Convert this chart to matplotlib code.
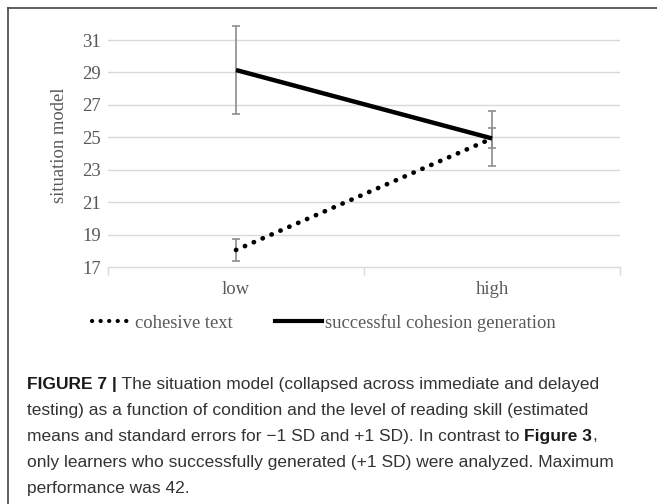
import matplotlib
matplotlib.use("Agg")
import matplotlib.pyplot as plt
from matplotlib.lines import Line2D
from matplotlib.transforms import offset_copy

categories = ["low", "high"]
cohesive_text = [18.05, 24.93]
cohesive_err = [0.68, 0.62]
successful_gen = [29.15, 24.93]
successful_err = [2.70, 1.68]
yticks = [17, 19, 21, 23, 25, 27, 29, 31]
series_names = ["cohesive text", "successful cohesion generation"]

W, H = 657, 504
fig = plt.figure(figsize=(W / 100, H / 100), dpi=100)

def fx(px):
    return px / W

def fy(py):
    return 1 - py / H

ax = fig.add_axes([fx(108), fy(267), fx(620) - fx(108), fy(23.8) - fy(267)])
ax.set_xlim(-0.5, 1.5)
ax.set_ylim(17, 32)

grid_c = "#d9d9d9"
text_c = "#595959"
serif = ["Liberation Serif", "DejaVu Serif"]
fs = 13.4

for v in yticks[1:]:
    ax.axhline(v, color=grid_c, lw=1.0, zorder=0)
for s in ["top", "right", "left"]:
    ax.spines[s].set_visible(False)
ax.spines["bottom"].set_color(grid_c)
ax.spines["bottom"].set_linewidth(1.0)

ax.set_yticks(yticks)
ax.set_yticklabels([str(v) for v in yticks], fontfamily=serif, fontsize=fs, color=text_c)
ax.tick_params(axis="y", length=0, pad=5)
ax.set_xticks([-0.5, 0.5, 1.5])
ax.set_xticklabels(["", "", ""])
ax.tick_params(axis="x", length=6, color=grid_c, width=1.0)
x = list(range(len(categories)))
lab_tr = offset_copy(ax.get_xaxis_transform(), fig=fig, x=0, y=-22, units="dots")
for xi, lab in zip(x, categories):
    ax.text(xi, 0, lab, transform=lab_tr, ha="center", va="center",
            fontfamily=serif, fontsize=fs, color=text_c)

ax.set_ylabel("situation model", fontfamily=serif, fontsize=fs, color=text_c, labelpad=10)

err_c = "#8c8c8c"
ax.errorbar(x, cohesive_text, yerr=cohesive_err, fmt="none", ecolor=err_c, elinewidth=1.2,
            capsize=3, capthick=1.2, zorder=2, clip_on=False)
ax.errorbar(x, successful_gen, yerr=successful_err, fmt="none", ecolor=err_c, elinewidth=1.2,
            capsize=3, capthick=1.2, zorder=2, clip_on=False)
l1, = ax.plot(x, cohesive_text, color="black", lw=3.4, linestyle=(0, (0.05, 2.0)),
              dash_capstyle="round", solid_capstyle="round", zorder=3, clip_on=False)
l2, = ax.plot(x, successful_gen, color="black", lw=3.2, solid_capstyle="butt", zorder=3, clip_on=False)

h1 = Line2D([0], [0], color="black", lw=3.0, linestyle=(0, (0.05, 2.0)), dash_capstyle="round")
h2 = Line2D([0], [0], color="black", lw=3.0)
leg_specs = [(h1, series_names[0], 92, 1.93, 0.38), (h2, series_names[1], 275, 2.5, 0.16)]
for h, name, xs, hl, htp in leg_specs:
    lg = fig.legend([h], [name], loc="center left", bbox_to_anchor=(fx(xs), fy(323)),
                    frameon=False, borderpad=0, borderaxespad=0, handlelength=hl,
                    handletextpad=htp, prop={"family": serif, "size": fs})
    for t in lg.get_texts():
        t.set_color(text_c)

# figure border (top and left visible)
fig.add_artist(Line2D([fx(8), fx(8)], [fy(8), 0], color="#444444", lw=1.2, transform=fig.transFigure))
fig.add_artist(Line2D([fx(8), 1], [fy(8), fy(8)], color="#444444", lw=1.2, transform=fig.transFigure))

# caption
cap_lines = [
    [("FIGURE 7 |", True), (" The situation model (collapsed across immediate and delayed", False)],
    [("testing) as a function of condition and the level of reading skill (estimated", False)],
    [("means and standard errors for \u22121 SD and +1 SD). In contrast to ", False), ("Figure 3", True), (",", False)],
    [("only learners who successfully generated (+1 SD) were analyzed. Maximum", False)],
    [("performance was 42.", False)],
]
cap_font = ["Liberation Sans", "DejaVu Sans"]
cap_size = 12.5
renderer = fig.canvas.get_renderer()
y0 = 384
dy = 26
for i, line in enumerate(cap_lines):
    xp = 27
    for txt, bold in line:
        t = fig.text(fx(xp), fy(y0 + i * dy), txt, ha="left", va="center",
                     fontfamily=cap_font, fontsize=cap_size,
                     fontweight="bold" if bold else "normal",
                     color="#1a1a1a" if bold else "#333333")
        bb = t.get_window_extent(renderer=renderer)
        xp += bb.width

fig.savefig("out.png", dpi=100)
